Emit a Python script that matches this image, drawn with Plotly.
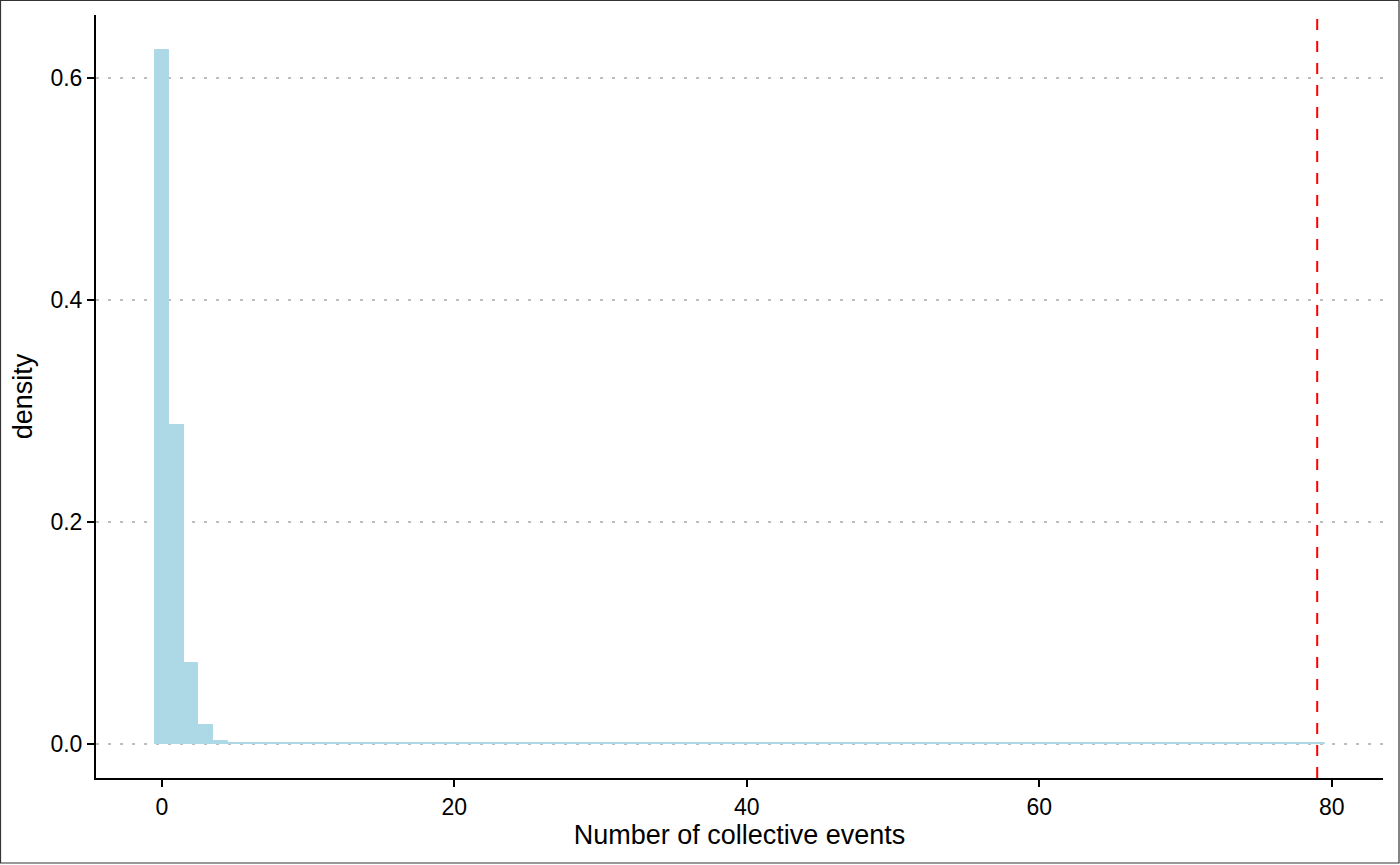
import plotly.graph_objects as go

# Histogram of simulated counts (bin width 1, centred on integers)
bin_centers = list(range(0, 80))
density_head = [0.625, 0.287, 0.073, 0.0171, 0.0025, 0.0007]
density = density_head + [0.0003] * (len(bin_centers) - len(density_head))

# Observed value (red dashed line)
observed = 79

x_ticks = [0, 20, 40, 60, 80]
y_ticks = [0.0, 0.2, 0.4, 0.6]
y_tick_labels = ["0.0", "0.2", "0.4", "0.6"]

W, H = 1400, 865
M = dict(l=96, r=17, t=15, b=87)

fig = go.Figure()
fig.add_trace(go.Bar(
    x=bin_centers,
    y=density,
    width=1,
    marker=dict(color="#add8e6", line=dict(color="#add8e6", width=1)),
    showlegend=False,
))

fig.add_shape(type="line", x0=observed, x1=observed, y0=0, y1=1,
              xref="x", yref="paper",
              line=dict(color="#ff0000", width=2, dash="11px,11px"))

# Outer border round the whole figure
pw = W - M["l"] - M["r"]
ph = H - M["t"] - M["b"]
fig.add_shape(type="rect", xref="paper", yref="paper",
              x0=-(M["l"] - 0.5) / pw, x1=1 + (M["r"] - 1) / pw,
              y0=-(M["b"] - 2) / ph, y1=1 + (M["t"] - 0.5) / ph,
              line=dict(color="#333333", width=1.2), layer="above")

fig.update_layout(
    width=W, height=H,
    margin=M,
    paper_bgcolor="white",
    plot_bgcolor="white",
    font=dict(family="Liberation Sans, Arial, sans-serif", size=22.5, color="black"),
    bargap=0,
)
fig.update_xaxes(
    range=[-4.5, 83.5],
    tickvals=x_ticks,
    tickfont=dict(size=23),
    ticks="outside", ticklen=7, tickwidth=2, tickcolor="black",
    showline=True, linecolor="black", linewidth=2,
    showgrid=False, zeroline=False,
    title=dict(text="Number of collective events", standoff=5),
)
fig.update_yaxes(
    range=[-0.031, 0.657],
    tickvals=y_ticks, ticktext=y_tick_labels,
    tickfont=dict(size=23),
    ticks="outside", ticklen=7, tickwidth=2, tickcolor="black",
    showline=True, linecolor="black", linewidth=2,
    showgrid=True, gridcolor="#bebebe", gridwidth=2, griddash="3px,9px",
    zeroline=False,
    title=dict(text="density", standoff=10),
)

# drop the default page margin so the figure sits at the window corner
fig.write_html("out.html", config={"displayModeBar": False},
               post_script="document.body.style.margin='0';")
